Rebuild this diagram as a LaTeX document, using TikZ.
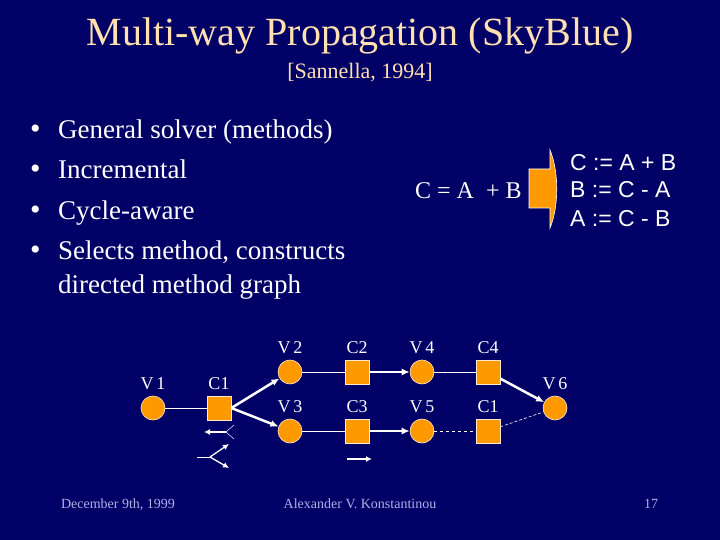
\documentclass[tikz,border=0pt]{standalone}
\usepackage{fontspec}
\setmainfont{Liberation Serif}
\newfontfamily\eqfont{Liberation Sans}
\usetikzlibrary{arrows.meta}
\definecolor{slidebg}{RGB}{0,0,102}
\definecolor{nodeorange}{RGB}{255,153,0}
\definecolor{titlecol}{RGB}{255,224,176}
\definecolor{footcol}{RGB}{176,176,232}

\begin{document}
\begin{tikzpicture}[x=1pt,y=-1pt,
        vert/.style={circle,fill=nodeorange,draw=white!80!nodeorange,line width=0.6pt,minimum size=24pt,inner sep=0pt},
        cons/.style={rectangle,fill=nodeorange,draw=white!80!nodeorange,line width=0.6pt,minimum size=24pt,inner sep=0pt},
        lbl/.style={text=white,font=\fontsize{18}{18}\selectfont,inner sep=1pt,label distance=5pt},
        bul/.style={anchor=base west,text=white,font=\fontsize{27}{27}\selectfont,inner sep=0pt},
        foot/.style={anchor=base,text=footcol,font=\fontsize{14}{14}\selectfont,inner sep=0pt},
        eqn/.style={anchor=base west,text=white,font=\eqfont\fontsize{23}{23}\selectfont,inner sep=0pt},
        flow/.style={-{Latex[length=8pt,width=7pt]},white,line width=2.5pt},
        tiny/.style={-{Latex[length=6pt,width=6pt]},white,line width=1.3pt},
    ]
        \fill[slidebg] (0,0) rectangle (720,540);

        \node[text=titlecol,font=\fontsize{40}{40}\selectfont,anchor=base] (title) at (360,46) {Multi-way Propagation (SkyBlue)};
        \node[text=titlecol,font=\fontsize{22}{22}\selectfont,anchor=base] (cite) at (360,79) {[Sannella, 1994]};

        \node[bul] (b1) at (58,139) {General solver (methods)};
        \node[bul] (b2) at (58,179) {Incremental};
        \node[bul] (b3) at (58,219) {Cycle-aware};
        \node[bul] (b4) at (58,259) {Selects method, constructs};
        \node[bul] (b5) at (58,293) {directed method graph};
        \foreach \y in {139,179,219,259}
            \node[bul,font=\fontsize{30}{30}\selectfont] at (30,\y) {\textbullet};

        \node[anchor=base west,text=white,font=\fontsize{24}{24}\selectfont,inner sep=0pt] (eq) at (415,199) {C = A \ + B};
        \filldraw[fill=nodeorange,draw=white,line width=0.6pt] (529,169) -- (550,169) -- (550,150)
            .. controls (559,172) and (559,206) .. (550,228) -- (550,208) -- (529,208) -- cycle;
        \node[eqn] (m1) at (570,171) {C := A + B};
        \node[eqn] (m2) at (570,198) {B := C - A};
        \node[eqn] (m3) at (570,226) {A := C - B};

        \node[vert,label={[lbl]above:V\,1}] (v1) at (153,408) {};
        \node[cons,label={[lbl]above:C1}] (c1) at (219,408) {};
        \node[vert,label={[lbl]above:V\,2}] (v2) at (290,372) {};
        \node[vert,label={[lbl]above:V\,3}] (v3) at (290,431) {};
        \node[cons,label={[lbl]above:C2}] (c2) at (357,372) {};
        \node[cons,label={[lbl]above:C3}] (c3) at (357,431) {};
        \node[vert,label={[lbl]above:V\,4}] (v4) at (422,372) {};
        \node[vert,label={[lbl]above:V\,5}] (v5) at (422,431) {};
        \node[cons,label={[lbl]above:C4}] (c4) at (488,372) {};
        \node[cons,label={[lbl]above:C1}] (c1b) at (488,431) {};
        \node[vert,label={[lbl]above:V\,6}] (v6) at (555,408) {};

        \draw[white,line width=1pt] (v1) -- (c1);
        \draw[flow] (c1.east) -- (v2);
        \draw[flow] (c1.east) -- (v3);
        \draw[white,line width=1pt] (v2) -- (c2);
        \draw[flow,line width=1.5pt] (c2) -- (v4);
        \draw[white,line width=1pt] (v4) -- (c4);
        \draw[flow] (c4) -- (v6);
        \draw[white,line width=1pt] (v3) -- (c3);
        \draw[flow,line width=1.5pt] (c3) -- (v5);
        \draw[white,line width=1pt,dashed] (v5) -- (c1b);
        \draw[white,line width=0.6pt,densely dashed] (c1b) -- (v6);

        \coordinate (pa) at (226,432);
        \coordinate (pb) at (204,432);
        \draw[tiny] (pa) -- (pb);
        \draw[white,line width=0.5pt] (234,425) -- (pa) -- (234,439);
        \coordinate (qa) at (197,457);
        \coordinate (qb) at (210,457);
        \draw[white,line width=1pt] (qa) -- (qb);
        \draw[tiny] (qb) -- (229,444);
        \draw[tiny] (qb) -- (229,468);
        \coordinate (ra) at (347,459);
        \coordinate (rb) at (372,459);
        \draw[tiny] (ra) -- (rb);

        \node[foot] (date) at (118,508) {December 9th, 1999};
        \node[foot] (auth) at (360,508) {Alexander V. Konstantinou};
        \node[foot] (page) at (651,508) {17};
\end{tikzpicture}
\end{document}
